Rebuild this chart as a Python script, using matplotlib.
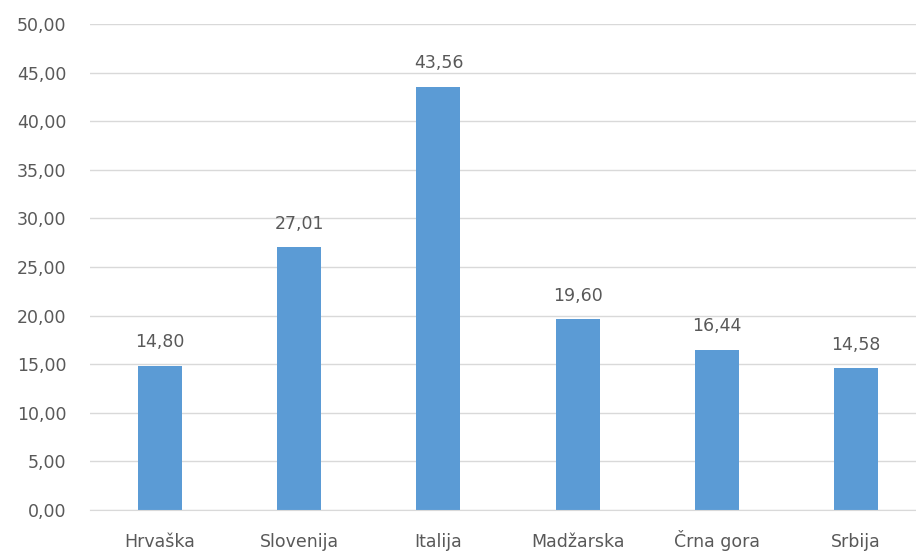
import matplotlib.pyplot as plt

countries = ['Hrvaška', 'Slovenija', 'Italija', 'Madžarska', 'Črna gora', 'Srbija']
values = [14.80, 27.01, 43.56, 19.60, 16.44, 14.58]
y_ticks = [0, 5, 10, 15, 20, 25, 30, 35, 40, 45, 50]

bar_color = '#5B9BD5'
text_color = '#595959'
grid_color = '#D9D9D9'

plt.rcParams['font.family'] = ['DejaVu Sans']

fig = plt.figure(figsize=(9.16, 5.54), dpi=100)
ax = fig.add_axes([90 / 916, 44 / 554, 826 / 916, 486 / 554])

x = list(range(len(countries)))
ax.bar(x, values, width=0.316, color=bar_color, zorder=3)

for xi, v in zip(x, values):
    ax.annotate(f'{v:.2f}'.replace('.', ','), (xi, v), xytext=(0, 13.5),
                textcoords='offset points', ha='center', va='baseline',
                fontsize=12.5, color=text_color)

ax.set_xlim(-0.503, 5.43)
ax.set_ylim(0, 50)
ax.set_yticks(y_ticks)
ax.set_yticklabels([f'{t:.2f}'.replace('.', ',') for t in y_ticks])
ax.set_xticks(x)
ax.set_xticklabels(countries, va='baseline')

ax.grid(axis='y', color=grid_color, linewidth=1, zorder=0)
for s in ['top', 'right', 'left']:
    ax.spines[s].set_visible(False)
ax.spines['bottom'].set_color(grid_color)
ax.spines['bottom'].set_zorder(4)
ax.tick_params(axis='both', length=0, labelsize=12.5, labelcolor=text_color)
ax.tick_params(axis='y', pad=17)
ax.tick_params(axis='x', pad=26.5)

fig.savefig('out.png', dpi=100)
